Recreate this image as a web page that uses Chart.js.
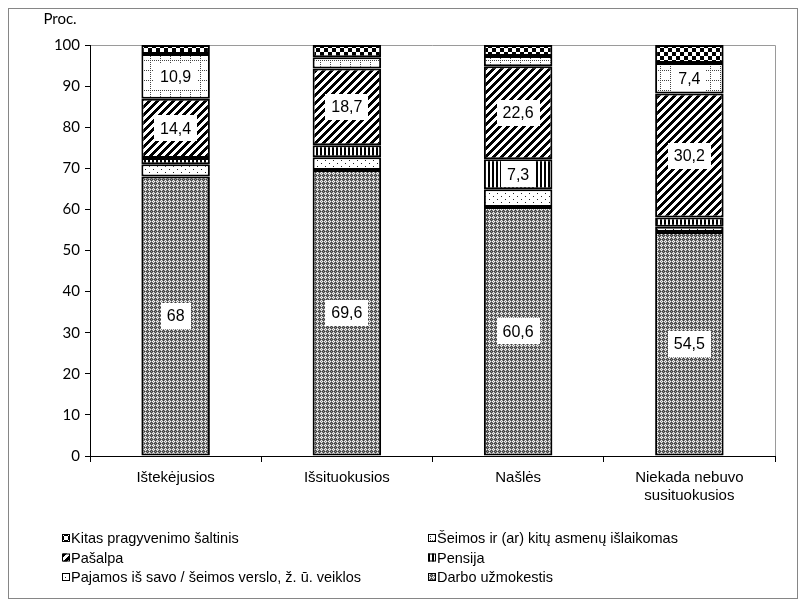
<!DOCTYPE html>
<html>
<head>
<meta charset="utf-8">
<script src="https://cdn.jsdelivr.net/npm/chart.js@4"></script>
<style>
  html, body { margin: 0; padding: 0; background: #fff; }
  #wrap { width: 811px; height: 607px; position: relative; }
</style>
</head>
<body>
<div id="wrap"><canvas id="myChart" width="811" height="607"></canvas></div>
<script>
const categories = ['Ištekėjusios', 'Išsituokusios', 'Našlės', ['Niekada nebuvo', 'susituokusios']];
// bottom to top
const darbo   = [68.0, 69.6, 60.6, 54.5];
const pajamos = [3.0, 3.1, 4.3, 1.3];
const pensija = [1.5, 2.9, 7.3, 2.2];
const pasalpa = [14.4, 18.7, 22.6, 30.2];
const seimos  = [10.9, 2.7, 2.5, 7.4];
const kitas   = [2.2, 3.0, 2.7, 4.4];
const yTicks = [0, 10, 20, 30, 40, 50, 60, 70, 80, 90, 100];

var canvas = document.getElementById('myChart');
var ctx0 = canvas.getContext('2d');

// build a small tile and turn it into a pattern
function tile(w, h, fn) {
  var c = document.createElement('canvas');
  c.width = w; c.height = h;
  var g = c.getContext('2d');
  for (var y = 0; y < h; y++) {
    for (var x = 0; x < w; x++) {
      g.fillStyle = fn(x, y);
      g.fillRect(x, y, 1, 1);
    }
  }
  return ctx0.createPattern(c, 'repeat');
}

var W = '#ffffff', B = '#000000';
var pDarbo = tile(4, 4, function (x, y) {
  var m = [
    ['#8a8a8a', '#f4f4f4', '#8a8a8a', '#3a3a3a'],
    ['#f4f4f4', '#8a8a8a', '#f4f4f4', '#8a8a8a'],
    ['#8a8a8a', '#f4f4f4', '#8a8a8a', '#3a3a3a'],
    ['#3a3a3a', '#8a8a8a', '#3a3a3a', '#8a8a8a']
  ];
  return m[y][x];
});
var pPajamos = tile(8, 6, function (x, y) {
  return ((x == 1 && y == 1) || (x == 5 && y == 4)) ? '#222' : W;
});
var pPensija = tile(4, 1, function (x, y) { return x < 2 ? B : W; });
var pPasalpa = tile(8, 8, function (x, y) { return ((x + y) % 8) < 4 ? B : W; });
var pSeimos = tile(10, 10, function (x, y) {
  if (x == 0 && y % 2 == 0) return '#444';
  if (y == 0 && x % 2 == 0) return '#444';
  return W;
});
var pKitas = tile(8, 8, function (x, y) { return ((x < 4) != (y < 4)) ? B : W; });

const data = {
  labels: categories,
  datasets: [
    { label: 'Darbo užmokestis', data: darbo, backgroundColor: pDarbo },
    { label: 'Pajamos iš savo / šeimos verslo, ž. ū. veiklos', data: pajamos, backgroundColor: pPajamos },
    { label: 'Pensija', data: pensija, backgroundColor: pPensija },
    { label: 'Pašalpa', data: pasalpa, backgroundColor: pPasalpa },
    { label: 'Šeimos ir (ar) kitų asmenų išlaikomas', data: seimos, backgroundColor: pSeimos },
    { label: 'Kitas pragyvenimo šaltinis', data: kitas, backgroundColor: pKitas }
  ].map(function (d) {
    d.borderColor = '#000';
    d.borderWidth = 2;
    d.borderSkipped = false;
    d.barPercentage = 0.4;
    d.categoryPercentage = 1;
    return d;
  })
};

// frame, plot border, "Proc." and the value boxes
const decor = {
  id: 'decor',
  beforeDraw(chart) {
    const {ctx, chartArea: {left, top, right, bottom}} = chart;
    ctx.save();
    ctx.fillStyle = '#fff';
    ctx.fillRect(0, 0, chart.width, chart.height);
    ctx.strokeStyle = '#868686';
    ctx.lineWidth = 1;
    ctx.strokeRect(8.5, 8.5, 789, 590);
    ctx.strokeStyle = '#9a9a9a';
    ctx.beginPath();
    ctx.moveTo(left, top + 0.5);
    ctx.lineTo(right + 0.5, top + 0.5);
    ctx.lineTo(right + 0.5, bottom);
    ctx.stroke();
    ctx.fillStyle = '#000';
    ctx.font = '15px Lato';
    ctx.textAlign = 'center';
    ctx.textBaseline = 'middle';
    ctx.fillText('Proc.', 60, 19);
    ctx.restore();
  },
  afterDatasetsDraw(chart) {
    const ctx = chart.ctx;
    ctx.save();
    ctx.font = '16px "Liberation Sans"';
    ctx.textAlign = 'center';
    ctx.textBaseline = 'middle';
    chart.data.datasets.forEach(function (ds, di) {
      chart.getDatasetMeta(di).data.forEach(function (bar, i) {
        var v = ds.data[i];
        if (v < 7) return;
        var txt = String(v).replace('.', ',');
        var cy = (bar.y + bar.base) / 2;
        var tw = ctx.measureText(txt).width;
        var bw = tw + 12, bh = 26;
        ctx.fillStyle = '#fff';
        ctx.fillRect(Math.round(bar.x - bw / 2), Math.round(cy - bh / 2), Math.round(bw), bh);
        ctx.fillStyle = '#000';
        ctx.fillText(txt, bar.x, cy + 1);
      });
    });
    ctx.restore();
  }
};

// two-column legend under the plot, top-down order
const legendGrid = {
  id: 'legendGrid',
  afterDraw(chart) {
    const ctx = chart.ctx;
    const order = [5, 4, 3, 2, 1, 0];
    ctx.save();
    ctx.font = '14.5px "Liberation Sans"';
    ctx.textAlign = 'left';
    ctx.textBaseline = 'middle';
    order.forEach(function (di, k) {
      var ds = chart.data.datasets[di];
      var col = k % 2, row = Math.floor(k / 2);
      var x = col == 0 ? 62 : 428;
      var y = 538 + row * 19.5;
      ctx.fillStyle = ds.backgroundColor;
      ctx.fillRect(x, y - 4, 8, 8);
      ctx.strokeStyle = '#000';
      ctx.lineWidth = 1;
      ctx.strokeRect(x + 0.5, y - 3.5, 7, 7);
      ctx.fillStyle = '#000';
      ctx.fillText(ds.label, x + 9, y + 1);
    });
    ctx.restore();
  }
};

const config = {
  type: 'bar',
  data: data,
  plugins: [decor, legendGrid],
  options: {
    responsive: false,
    animation: false,
    layout: { padding: { left: 0, top: 45, right: 36, bottom: 0 } },
    plugins: {
      legend: { display: false },
      tooltip: { enabled: false },
      title: { display: false }
    },
    scales: {
      x: {
        stacked: true,
        grid: { display: true, offset: true, drawOnChartArea: false, drawTicks: true, tickLength: 6, color: '#000' },
        border: { display: true, color: '#000', width: 1 },
        ticks: { color: '#000', font: { family: 'Liberation Sans', size: 15, lineHeight: 1.25 }, padding: 6, maxRotation: 0 },
        afterFit: function (s) { s.height = 151; }
      },
      y: {
        stacked: true,
        min: 0,
        max: 100,
        afterBuildTicks: function (s) { s.ticks = yTicks.map(function (v) { return { value: v }; }); },
        grid: { display: true, drawOnChartArea: false, drawTicks: true, tickLength: 5, color: '#000' },
        border: { display: true, color: '#000', width: 1 },
        ticks: { color: '#000', font: { family: 'Lato', size: 15 }, padding: 5 },
        afterFit: function (s) { s.width = 90; }
      }
    }
  }
};

var myChart = new Chart(canvas, config);
</script>
</body>
</html>
